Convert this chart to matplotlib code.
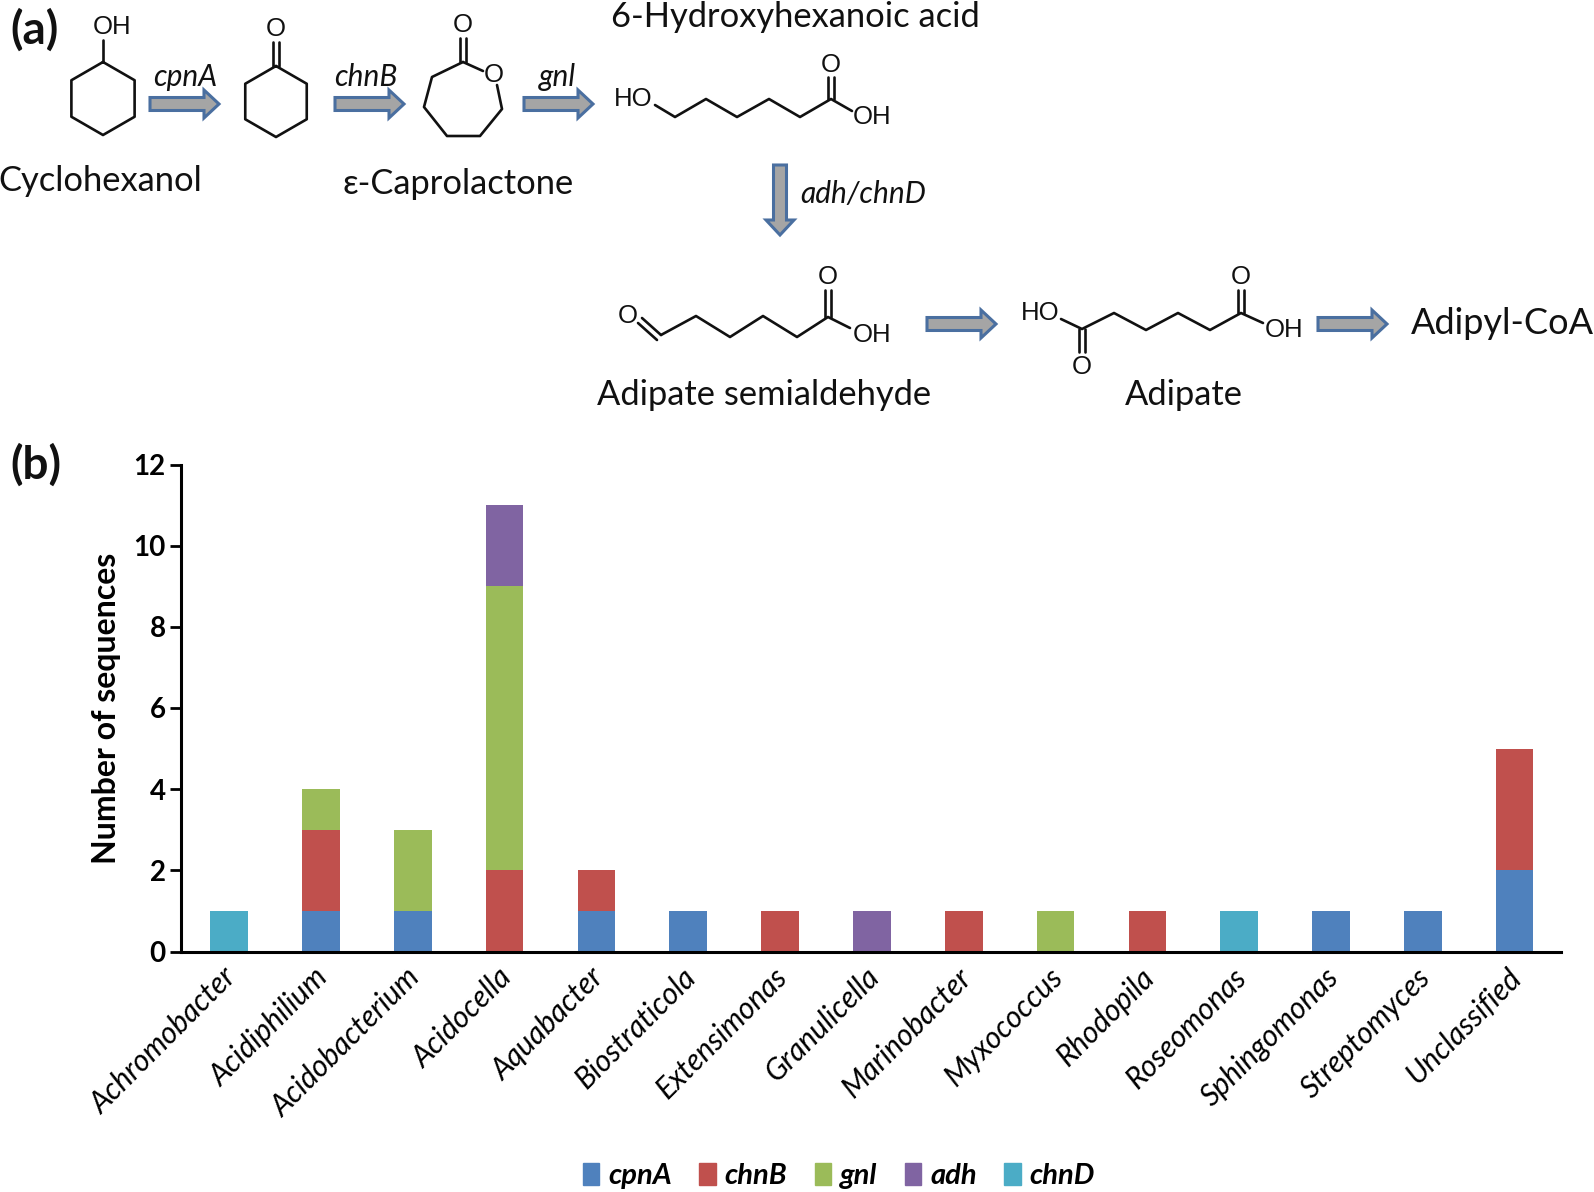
import matplotlib
matplotlib.use("Agg")
import matplotlib.pyplot as plt
import matplotlib.transforms as mtrans
import numpy as np
from matplotlib.patches import Polygon, Patch

# data
generos = ["Achromobacter", "Acidiphilium", "Acidobacterium", "Acidocella", "Aquabacter",
           "Biostraticola", "Extensimonas", "Granulicella", "Marinobacter", "Myxococcus",
           "Rhodopila", "Roseomonas", "Sphingomonas", "Streptomyces", "Unclassified"]
cpnA = [0, 1, 1, 0, 1, 1, 0, 0, 0, 0, 0, 0, 1, 1, 2]
chnB = [0, 2, 0, 2, 1, 0, 1, 0, 1, 0, 1, 0, 0, 0, 3]
gnl = [0, 1, 2, 7, 0, 0, 0, 0, 0, 1, 0, 0, 0, 0, 0]
adh = [0, 0, 0, 2, 0, 0, 0, 1, 0, 0, 0, 0, 0, 0, 0]
chnD = [1, 0, 0, 0, 0, 0, 0, 0, 0, 0, 0, 1, 0, 0, 0]
series = {"cpnA": cpnA, "chnB": chnB, "gnl": gnl, "adh": adh, "chnD": chnD}
cores = {"cpnA": "#4F81BD", "chnB": "#C0504D", "gnl": "#9BBB59", "adh": "#8064A2", "chnD": "#4BACC6"}
y_ticks = [0, 2, 4, 6, 8, 10, 12]

W, H = 1594, 1192
plt.rcParams["font.family"] = ["Lato", "DejaVu Sans"]
fig = plt.figure(figsize=(W / 100, H / 100), dpi=100)

# painel (a) desenhado em pixels
top = fig.add_axes([0, 0, 1, 1])
top.set_xlim(0, W)
top.set_ylim(H, 0)
top.axis("off")

CHEM = ["Liberation Sans"]


def line(pts, lw=1.9):
    pts = np.array(pts, dtype=float)
    top.plot(pts[:, 0], pts[:, 1], color="#111111", lw=lw, solid_joinstyle="round", solid_capstyle="round")


def double(x, y0, y1, gap=3.2):
    line([(x - gap, y0), (x - gap, y1)])
    line([(x + gap, y0), (x + gap, y1)])


def atom(x, y, s, size=18.5):
    top.text(x, y, s, family=CHEM, fontsize=size, ha="center", va="center", color="#111111")


def hexagon(cx, cy, r):
    ang = np.radians(np.arange(0, 361, 60) - 90)
    line(np.c_[cx + r * np.cos(ang), cy + r * np.sin(ang)])


def arrow_h(x0, x1, y, head=15, sw=6.5, hw=14):
    top.add_patch(Polygon([(x0, y - sw), (x1 - head, y - sw), (x1 - head, y - hw), (x1, y),
                           (x1 - head, y + hw), (x1 - head, y + sw), (x0, y + sw)],
                          fc="#A5A5A5", ec="#4A6FA0", lw=2.2, joinstyle="miter"))


def arrow_v(x, y0, y1, head=15, sw=6.5, hw=14):
    top.add_patch(Polygon([(x - sw, y0), (x - sw, y1 - head), (x - hw, y1 - head), (x, y1),
                           (x + hw, y1 - head), (x + sw, y1 - head), (x + sw, y0)],
                          fc="#A5A5A5", ec="#4A6FA0", lw=2.2, joinstyle="miter"))


def nome(x, y, s, size=24.8):
    top.text(x, y, s, fontsize=size, ha="center", va="center", color="#111111")


def enzima(x, y, s):
    top.text(x, y, s, fontsize=21.5, style="italic", ha="center", va="center", color="#111111")


top.text(10, 30, "(a)", fontsize=33, fontweight="bold", ha="left", va="center", color="#111111")
top.text(10, 465, "(b)", fontsize=33, fontweight="bold", ha="left", va="center", color="#111111")

# ciclohexanol
hexagon(103, 98.5, 36.5)
line([(103, 62), (103, 40)])
atom(112, 27, "OH")
nome(100, 181, "Cyclohexanol")
enzima(185, 77, "cpnA")
arrow_h(150, 219, 104)

# ciclohexanona
hexagon(276, 101.5, 35.5)
double(276, 66, 42)
atom(276, 29, "O")
enzima(366, 77, "chnB")
arrow_h(335, 404, 104)

# caprolactona
line([(463, 62), (432, 77), (424, 107), (447, 136), (480, 136), (502, 109), (497, 85)])
line([(463, 62), (483, 71)])
double(463, 62, 38)
atom(463, 25, "O")
atom(494, 75, "O")
nome(458, 184, "ε-Caprolactone")
enzima(557, 77, "gnl")
arrow_h(524, 593, 104)

# 6-hidroxi
nome(795, 17, "6-Hydroxyhexanoic acid")
atom(633, 99, "HO")
line([(655, 105), (675, 117), (706, 99), (737, 117), (769, 99), (800, 117), (831, 99), (852, 111)])
double(831, 99, 77)
atom(831, 65, "O")
atom(872, 117, "OH")
arrow_v(780, 165, 235)
enzima(863, 194, "adh/chnD")

# semialdeido
atom(628, 316, "O")
line([(661, 335), (696, 316), (730, 337), (763, 316), (797, 337), (828, 317), (850, 328)])
line([(638, 323), (657, 340)])
line([(642, 318), (661, 335)])
double(828, 317, 290)
atom(828, 277, "O")
atom(872, 335, "OH")
nome(764, 395, "Adipate semialdehyde")
arrow_h(927, 996, 324)

# adipato
atom(1040, 313, "HO")
line([(1061, 319), (1082, 329), (1114, 313), (1146, 330), (1178, 313), (1210, 330), (1241, 313), (1263, 323)])
double(1082, 329, 352)
atom(1082, 367, "O")
double(1241, 313, 290)
atom(1241, 277, "O")
atom(1284, 330, "OH")
nome(1184, 395, "Adipate")
arrow_h(1318, 1387, 324)
nome(1502, 324, "Adipyl-CoA", size=26)

# painel (b)
x0, x1, y_base, y_topo = 181, 1560.5, 951.5, 464.5
ax = fig.add_axes([x0 / W, 1 - y_base / H, (x1 - x0) / W, (y_base - y_topo) / H])
ax.patch.set_alpha(0)
pos = np.arange(len(generos))
base = np.zeros(len(generos))
for nome_s, valores in series.items():
    ax.bar(pos, valores, 0.41, bottom=base, color=cores[nome_s], label=nome_s)
    base = base + np.array(valores)

ax.set_xlim(-0.525, 14.5)
ax.set_ylim(0, 12)
ax.set_yticks(y_ticks)
ax.set_yticklabels(y_ticks, fontsize=20, fontweight="bold")
ax.set_ylabel("Number of sequences", fontsize=23, fontweight="bold", labelpad=9)
ax.set_xticks(pos)
ax.set_xticklabels(generos, rotation=45, ha="right", rotation_mode="anchor", fontsize=21.5, style="italic")
ax.tick_params(axis="y", length=8, width=2, pad=3)
ax.tick_params(axis="x", length=0, pad=8)
# tick_params reseta o transform, entao o deslocamento vem depois
desloc = mtrans.ScaledTranslation(-7 / 100, 0, fig.dpi_scale_trans)
for rotulo in ax.get_xticklabels():
    rotulo.set_transform(rotulo.get_transform() + desloc)
for lado in ["top", "right"]:
    ax.spines[lado].set_visible(False)
for lado in ["left", "bottom"]:
    ax.spines[lado].set_linewidth(2.2)

alcas = [Patch(color=cores[k], label=k) for k in series]
leg = fig.legend(handles=alcas, loc="center", bbox_to_anchor=(839 / W, 1 - 1176 / H), ncols=5,
                 frameon=False, handlelength=0.56, handleheight=0.8, handletextpad=0.3, columnspacing=0.95,
                 prop={"size": 21, "weight": "bold", "style": "italic"})

fig.savefig("out.png", dpi=100)
